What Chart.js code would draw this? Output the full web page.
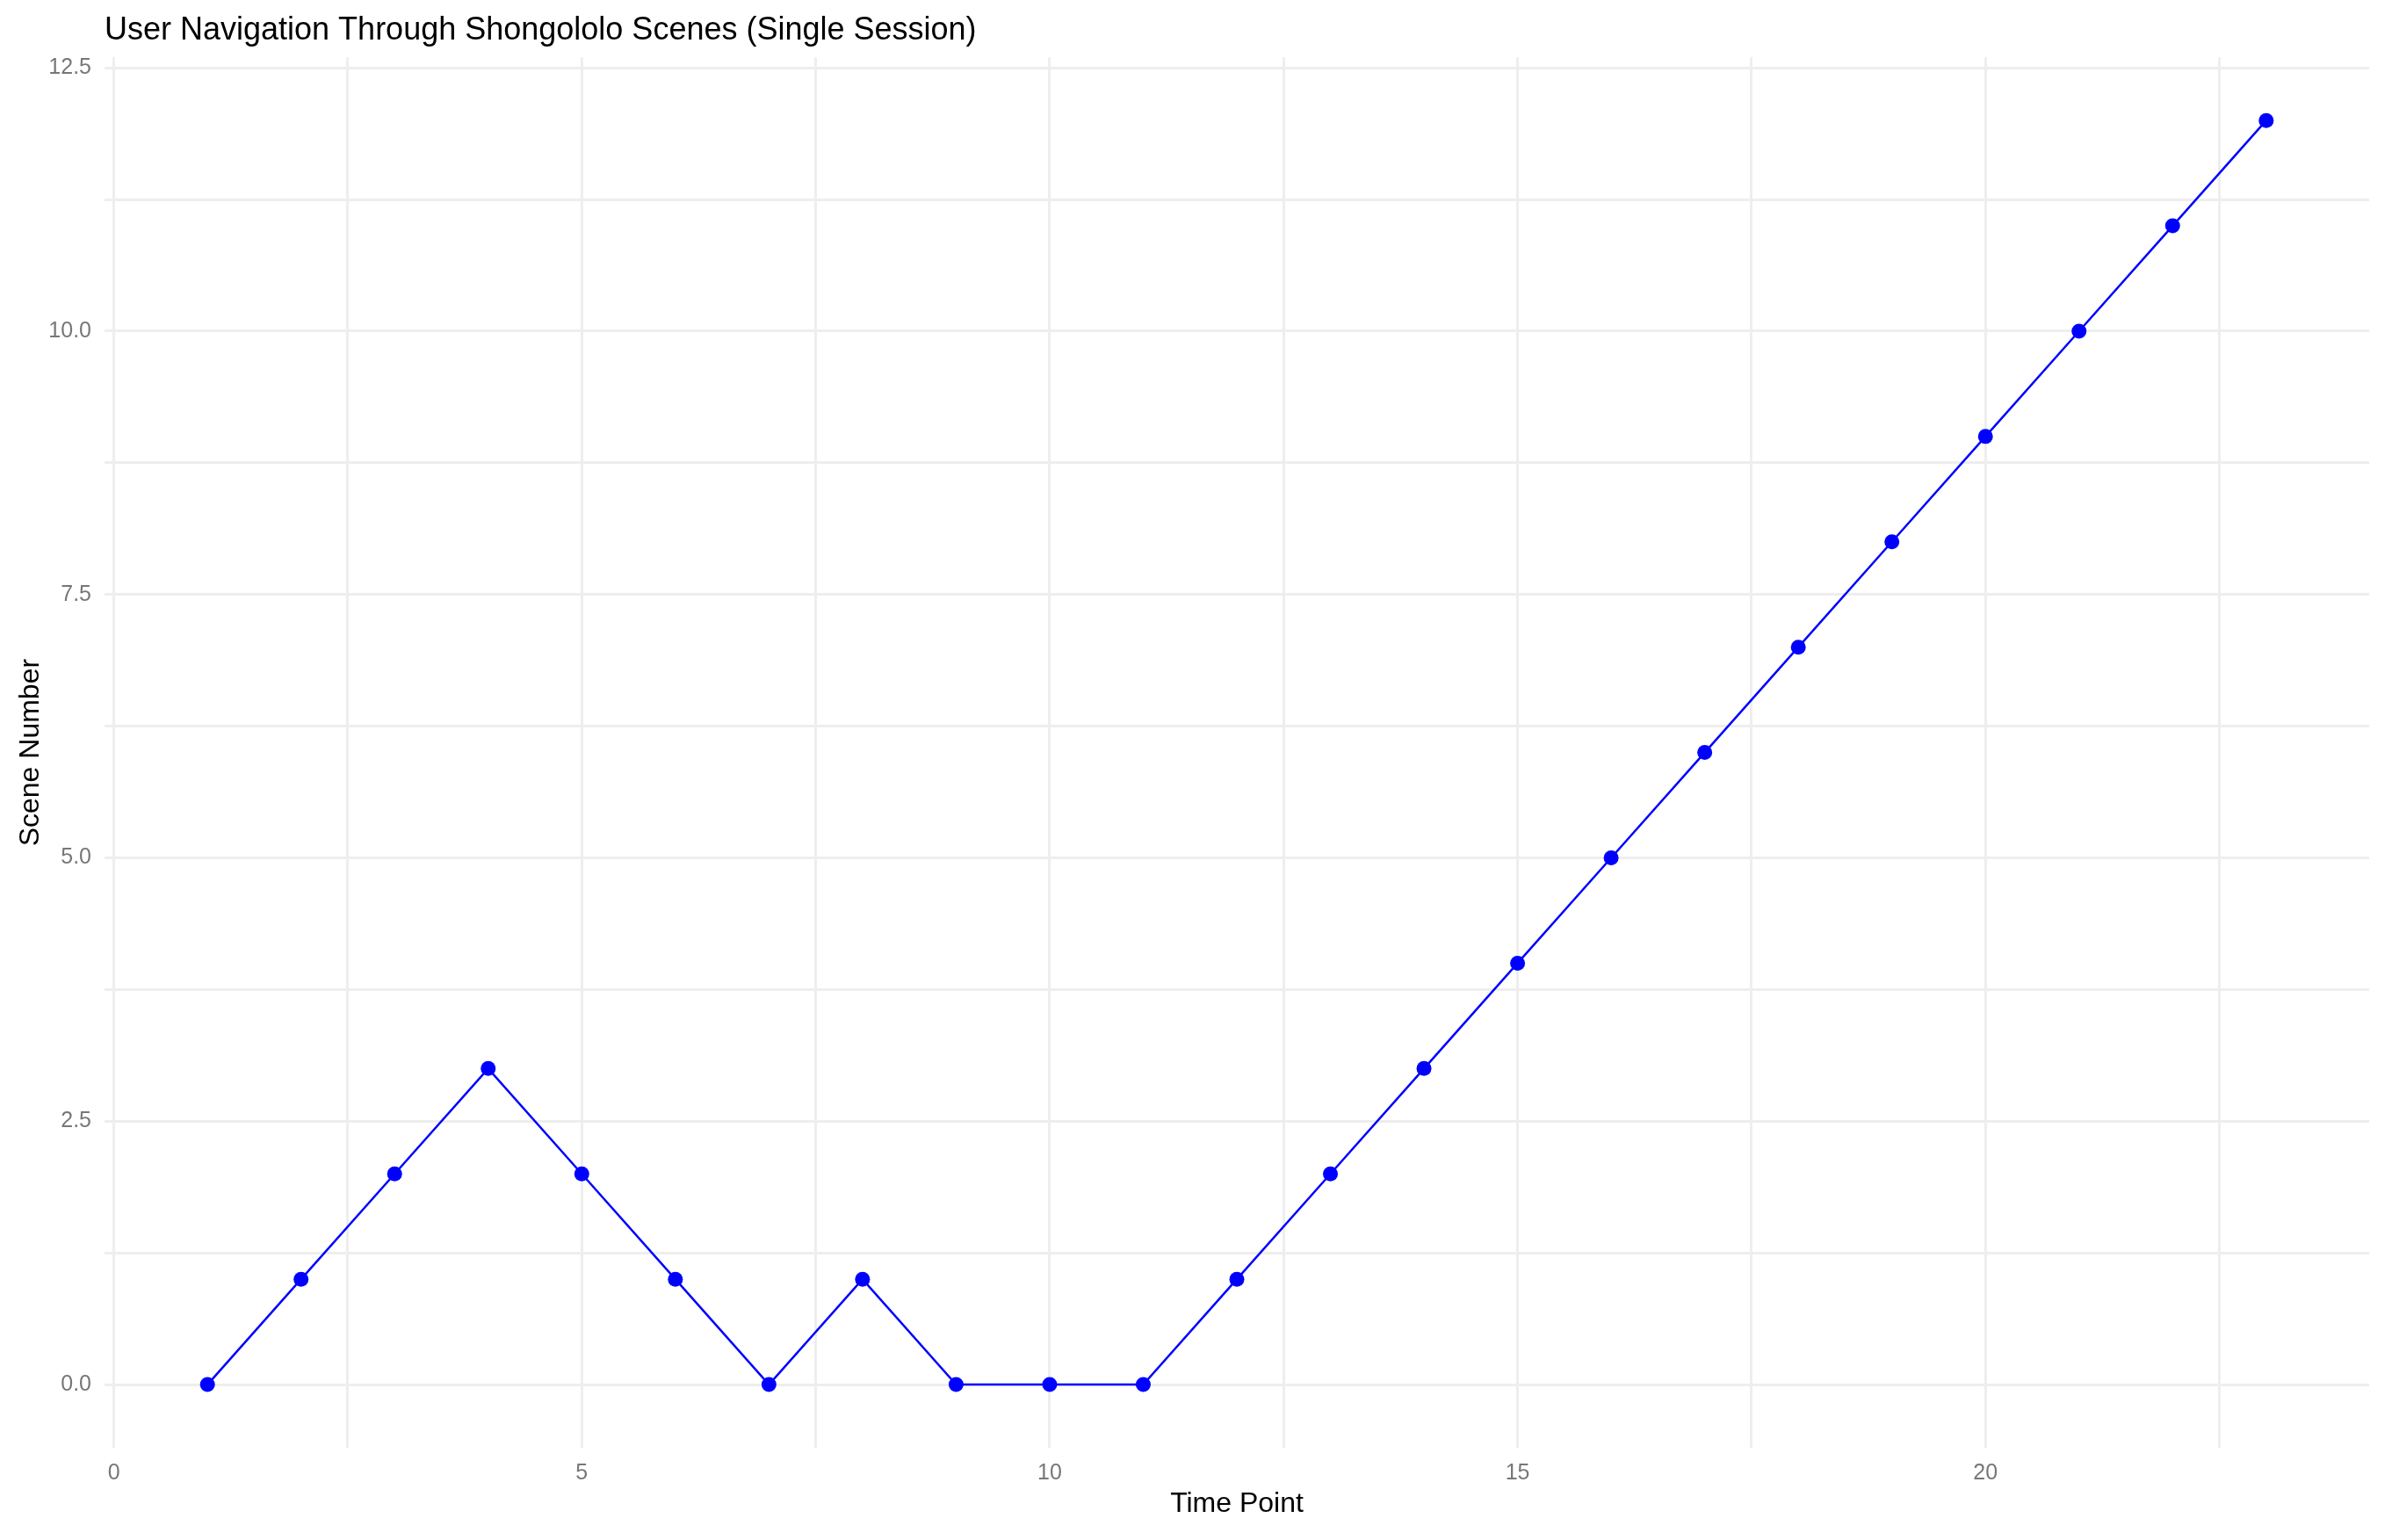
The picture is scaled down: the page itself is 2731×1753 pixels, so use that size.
<!DOCTYPE html>
<html>
<head>
<meta charset="utf-8">
<title>User Navigation Through Shongololo Scenes</title>
<script src="https://cdn.jsdelivr.net/npm/chart.js@4.4.1/dist/chart.umd.min.js"></script>
<style>
  html, body { margin: 0; padding: 0; background: #ffffff; }
  #wrap { width: 2731px; height: 1753px; }
</style>
</head>
<body>
<div id="wrap"><canvas id="nav-chart" width="2731" height="1753"></canvas></div>
<script>
// Data
const timePoints = [1, 2, 3, 4, 5, 6, 7, 8, 9, 10, 11, 12, 13, 14, 15, 16, 17, 18, 19, 20, 21, 22, 23];
const sceneNumbers = [0, 1, 2, 3, 2, 1, 0, 1, 0, 0, 0, 1, 2, 3, 4, 5, 6, 7, 8, 9, 10, 11, 12];

// Axis ticks (major get labels, minor only gridlines)
const xMajorTicks = [0, 5, 10, 15, 20];
const xMinorTicks = [2.5, 7.5, 12.5, 17.5, 22.5];
const yMajorTicks = [0, 2.5, 5, 7.5, 10, 12.5];
const yMinorTicks = [1.25, 3.75, 6.25, 8.75, 11.25];

const FONT = "'Liberation Sans', Arial, sans-serif";
const gridColor = '#EEEEEE';
const tickColor = '#777777';

function setTicks(major, minor) {
  return function(axis) {
    axis.ticks = major.concat(minor).sort((a, b) => a - b).map(v => ({ value: v }));
  };
}

const points = timePoints.map((t, i) => ({ x: t, y: sceneNumbers[i] }));

const ctx = document.getElementById('nav-chart');
new Chart(ctx, {
  type: 'line',
  data: {
    datasets: [{
      label: 'Scene',
      data: points,
      borderColor: '#0000FF',
      backgroundColor: '#0000FF',
      borderWidth: 2.5,
      tension: 0,
      fill: false,
      pointRadius: 8.5,
      pointBorderWidth: 0,
      pointBackgroundColor: '#0000FF'
    }]
  },
  options: {
    responsive: false,
    animation: false,
    layout: {
      padding: { left: 0, right: 34, top: 0, bottom: 0 }
    },
    plugins: {
      legend: { display: false },
      tooltip: { enabled: false },
      title: {
        display: true,
        text: 'User Navigation Through Shongololo Scenes (Single Session)',
        align: 'start',
        fullSize: false,
        color: '#000000',
        font: { family: FONT, size: 36, weight: 'normal' },
        padding: { top: 13, bottom: 9 }
      }
    },
    scales: {
      x: {
        type: 'linear',
        min: -0.1,
        max: 24.1,
        afterBuildTicks: setTicks(xMajorTicks, xMinorTicks),
        afterFit: function(axis) { axis.height = 105; },
        grid: { color: gridColor, lineWidth: 3, drawTicks: false },
        border: { display: false },
        ticks: {
          autoSkip: false,
          maxRotation: 0,
          padding: 14,
          color: tickColor,
          font: { family: FONT, size: 25 },
          callback: function(value) {
            return xMajorTicks.includes(value) ? String(value) : '';
          }
        },
        title: {
          display: true,
          text: 'Time Point',
          color: '#000000',
          font: { family: FONT, size: 32 },
          padding: { top: 0, bottom: 22 }
        }
      },
      y: {
        type: 'linear',
        min: -0.6,
        max: 12.6,
        afterBuildTicks: setTicks(yMajorTicks, yMinorTicks),
        afterFit: function(axis) { axis.width = 119; },
        grid: { color: gridColor, lineWidth: 3, drawTicks: false },
        border: { display: false },
        ticks: {
          autoSkip: false,
          padding: 15,
          color: tickColor,
          font: { family: FONT, size: 25 },
          callback: function(value) {
            return yMajorTicks.includes(value) ? value.toFixed(1) : '';
          }
        },
        title: {
          display: true,
          text: 'Scene Number',
          color: '#000000',
          font: { family: FONT, size: 32 },
          padding: { top: 16, bottom: 0 }
        }
      }
    }
  }
});
</script>
</body>
</html>
